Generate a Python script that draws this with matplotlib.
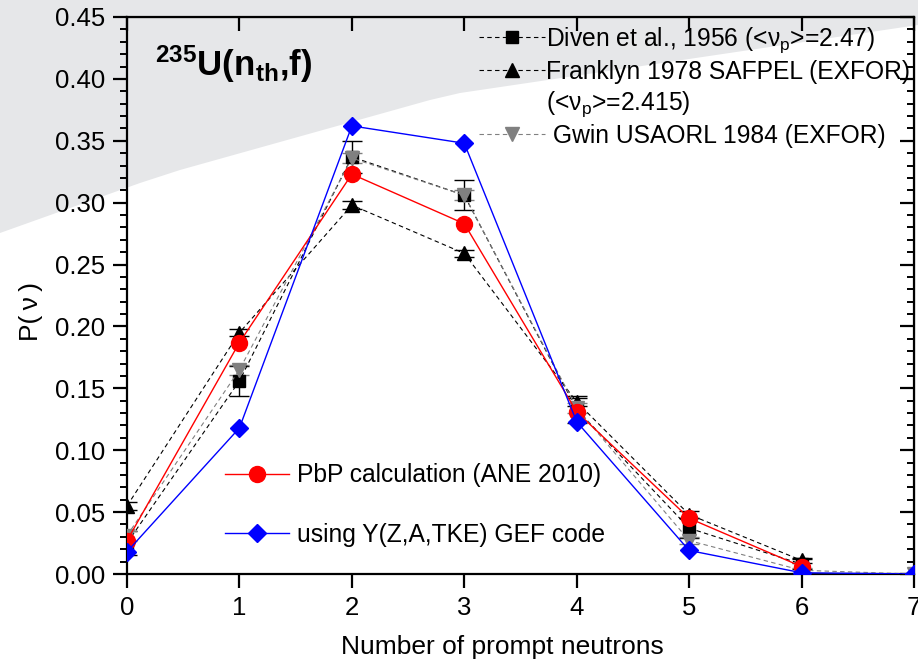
import matplotlib
matplotlib.use('Agg')
import matplotlib.pyplot as plt
from matplotlib.lines import Line2D
from matplotlib.patches import Polygon
import numpy as np

plt.rcParams['font.family'] = ['Liberation Sans', 'DejaVu Sans']
plt.rcParams['mathtext.fontset'] = 'custom'
plt.rcParams['mathtext.rm'] = 'Liberation Sans'
plt.rcParams['mathtext.it'] = 'Liberation Sans:italic'
plt.rcParams['mathtext.bf'] = 'Liberation Sans:bold'

# data
nu = [0, 1, 2, 3, 4, 5, 6, 7]
diven = [0.025, 0.156, 0.337, 0.306, 0.133, 0.037, 0.008]
diven_err = [0.010, 0.012, 0.013, 0.012, 0.011, 0.008, 0.004]
franklyn = [0.055, 0.195, 0.298, 0.259, 0.139, 0.048, 0.011]
franklyn_err = [0.003, 0.003, 0.003, 0.003, 0.003, 0.003, 0.002]
gwin = [0.031, 0.165, 0.336, 0.306, 0.134, 0.027, 0.003, 0.0]
gwin_err = [0.004, 0.004, 0.004, 0.004, 0.004, 0.003, 0.002, 0.0]
pbp = [0.027, 0.187, 0.323, 0.283, 0.131, 0.045, 0.006]
gef = [0.018, 0.118, 0.362, 0.348, 0.123, 0.019, 0.001, 0.0]

W, H = 918, 667
fig = plt.figure(figsize=(W / 100, H / 100), dpi=100)

# grey slide background wedge (figure pixels)
bg = [(0, 0), (0, 233), (140, 183), (180, 170), (430, 100), (460, 93), (918, 25), (918, 0)]
fig.patches.append(Polygon([(x / W, 1 - y / H) for x, y in bg], closed=True,
                           transform=fig.transFigure, facecolor='#e6e7e9',
                           edgecolor='none', zorder=-1))

ax = fig.add_axes([127 / W, 1 - 574 / H, (914 - 127) / W, (574 - 17) / H])
ax.patch.set_visible(False)
ax.set_zorder(1)

dash = dict(linestyle=(0, (4, 3)), linewidth=0.8)
ax.errorbar(nu[:7], diven, yerr=diven_err, fmt='none', ecolor='black', elinewidth=1, capsize=7, capthick=1, zorder=2)
ax.errorbar(nu[:7], franklyn, yerr=franklyn_err, fmt='none', ecolor='black', elinewidth=1, capsize=7, capthick=1, zorder=2)
ax.errorbar(nu, gwin, yerr=gwin_err, fmt='none', ecolor='#808080', elinewidth=1, capsize=7, capthick=1, zorder=2)

l1, = ax.plot(nu[:7], diven, color='black', marker='s', ms=8, **dash, zorder=3)
l2, = ax.plot(nu[:7], franklyn, color='black', marker='^', ms=10, **dash, zorder=3)
l3, = ax.plot(nu, gwin, color='#808080', marker='v', ms=10, **dash, zorder=4)
l4, = ax.plot(nu[:7], pbp, color='red', marker='o', ms=11.5, lw=1, zorder=5)
l5, = ax.plot(nu, gef, color='blue', marker='D', ms=9, lw=1, zorder=6)

ax.set_xlim(0, 7)
ax.set_ylim(0, 0.45)
ax.set_xticks(nu)
ax.set_yticks(np.arange(0, 0.451, 0.05))
ax.set_yticks(np.arange(0, 0.451, 0.01), minor=True)
ax.yaxis.set_major_formatter(matplotlib.ticker.FormatStrFormatter('%.2f'))
ax.tick_params(axis='both', which='major', direction='out', length=10, width=1.6, labelsize=18.5, pad=6)
ax.tick_params(axis='y', which='minor', direction='out', length=5, width=1.4)
for s in ax.spines.values():
    s.set_linewidth(1.6)

top = ax.secondary_xaxis('top')
top.set_xticks(nu)
top.tick_params(direction='in', length=10, width=1.6, labeltop=False)
right = ax.secondary_yaxis('right')
right.set_yticks(np.arange(0, 0.451, 0.05))
right.set_yticks(np.arange(0, 0.451, 0.01), minor=True)
right.tick_params(which='major', direction='in', length=10, width=1.6, labelright=False)
right.tick_params(which='minor', direction='in', length=5, width=1.4)

ax.set_xlabel('Number of prompt neutrons', fontsize=19)
ax.xaxis.set_label_coords(0.4765, -0.11)
ax.set_ylabel('P(\u2009ν\u2009)', fontsize=19)
ax.yaxis.set_label_coords(-0.107, 0.472)

ax.text(0.035, 0.915, r'$^{\mathbf{235}}\mathbf{U(n_{th}{,}f)}$', transform=ax.transAxes,
        fontsize=25, va='center', ha='left')

blank = Line2D([], [], linestyle='none', marker='none')
leg1 = ax.legend([l1, l2, blank, l3],
                 [r'Diven et al., 1956 (<ν$_\mathrm{p}$>=2.47)',
                  'Franklyn 1978 SAFPEL (EXFOR)',
                  r'(<ν$_\mathrm{p}$>=2.415)',
                  ' Gwin USAORL 1984 (EXFOR)'],
                 loc='upper left', bbox_to_anchor=(0.447, 0.9856), frameon=False,
                 fontsize=17.7, handlelength=2.7, handletextpad=0.05,
                 labelspacing=0.21, borderpad=0, borderaxespad=0)
ax.add_artist(leg1)
ax.legend([l4, l5], ['PbP calculation (ANE 2010)', 'using Y(Z,A,TKE) GEF code'],
          loc='upper left', bbox_to_anchor=(0.125, 0.199), frameon=False,
          fontsize=17.7, handlelength=2.6, handletextpad=0.3,
          labelspacing=1.45, borderpad=0, borderaxespad=0)

fig.savefig('out.png', dpi=100)
